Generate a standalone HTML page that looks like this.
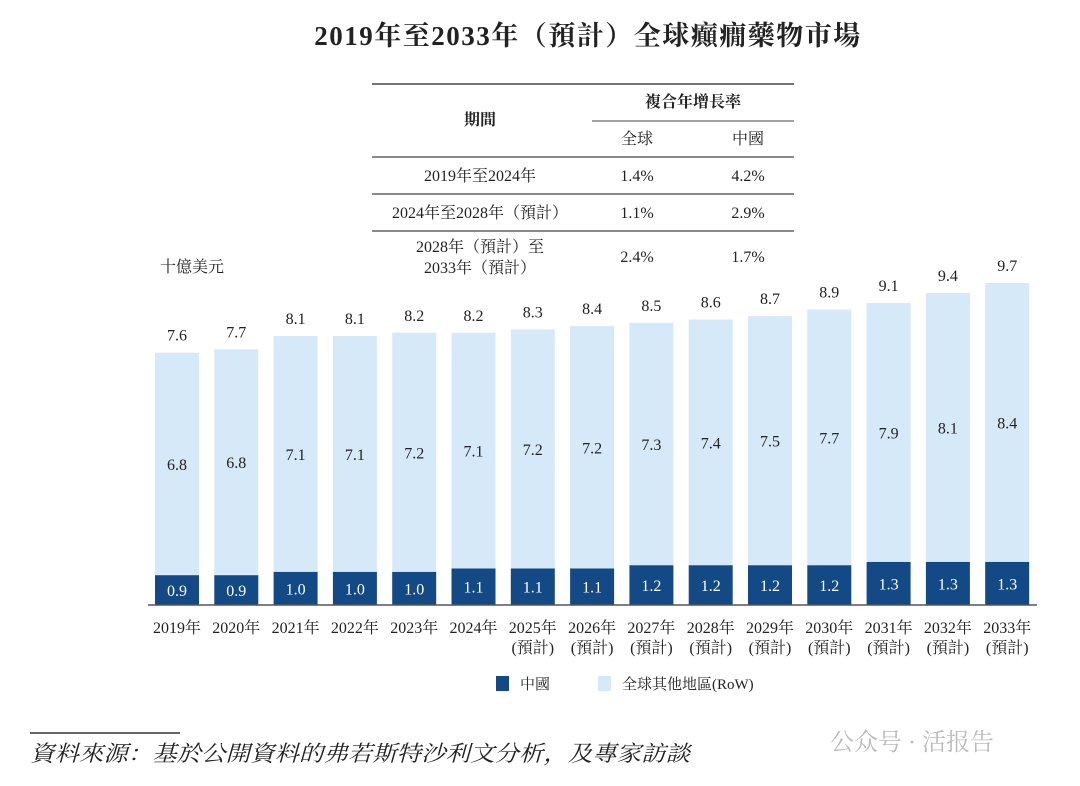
<!DOCTYPE html>
<html><head><meta charset="utf-8">
<style>
body{margin:0;background:#fff;}
svg text{font-family:"Liberation Serif","Noto Serif CJK SC","Noto Sans CJK TC",serif;fill:#222;}
</style></head>
<body>
<svg id="chart" width="1080" height="781" viewBox="0 0 1080 781" xmlns="http://www.w3.org/2000/svg">
<text x="588" y="45" text-anchor="middle" font-size="27" font-weight="bold" letter-spacing="1.5">2019年至2033年（預計）全球癲癇藥物市場</text>
<g font-size="16">
<line x1="372" y1="84" x2="794" y2="84" stroke="#444" stroke-width="1.5"/>
<line x1="592" y1="121" x2="794" y2="121" stroke="#444" stroke-width="1"/>
<line x1="372" y1="157" x2="794" y2="157" stroke="#444" stroke-width="1.2"/>
<line x1="372" y1="194" x2="794" y2="194" stroke="#444" stroke-width="1.2"/>
<line x1="372" y1="231" x2="794" y2="231" stroke="#444" stroke-width="1.2"/>
<text x="480" y="125" text-anchor="middle" font-weight="bold" font-family="Noto Sans CJK TC,sans-serif">期間</text>
<text x="693" y="107" text-anchor="middle" font-weight="bold" font-family="Noto Sans CJK TC,sans-serif">複合年增長率</text>
<text x="637" y="144" text-anchor="middle">全球</text>
<text x="748" y="144" text-anchor="middle">中國</text>
<text x="480" y="181" text-anchor="middle">2019年至2024年</text>
<text x="637" y="181" text-anchor="middle">1.4%</text>
<text x="748" y="181" text-anchor="middle">4.2%</text>
<text x="480" y="218" text-anchor="middle">2024年至2028年（預計）</text>
<text x="637" y="218" text-anchor="middle">1.1%</text>
<text x="748" y="218" text-anchor="middle">2.9%</text>
<text x="480" y="252" text-anchor="middle">2028年（預計）至</text>
<text x="480" y="273" text-anchor="middle">2033年（預計）</text>
<text x="637" y="262" text-anchor="middle">2.4%</text>
<text x="748" y="262" text-anchor="middle">1.7%</text>
</g>
<text x="160" y="272" font-size="16">十億美元</text>
<g id="bars"></g>
<line x1="148" y1="605" x2="1037" y2="605" stroke="#555" stroke-width="1.5"/>
<g font-size="15">
<rect x="496" y="676" width="13" height="15" fill="#134a85"/>
<text x="520" y="689">中國</text>
<rect x="598" y="676" width="13" height="15" fill="#d5e9f8"/>
<text x="622" y="689">全球其他地區(RoW)</text>
</g>
<line x1="30" y1="733" x2="180" y2="733" stroke="#333" stroke-width="1.5"/>
<text x="30" y="761" font-size="22" font-style="italic" textLength="660" lengthAdjust="spacingAndGlyphs">資料來源：基於公開資料的弗若斯特沙利文分析，及專家訪談</text>
<text x="830" y="750" font-size="24" style="fill:#bbb" font-family="Noto Sans CJK SC,sans-serif">公众号 · 活报告</text>
</svg>
<script>
const years=["2019年","2020年","2021年","2022年","2023年","2024年","2025年","2026年","2027年","2028年","2029年","2030年","2031年","2032年","2033年"];
const forecast=[0,0,0,0,0,0,1,1,1,1,1,1,1,1,1];
const china=[0.9,0.9,1.0,1.0,1.0,1.1,1.1,1.1,1.2,1.2,1.2,1.2,1.3,1.3,1.3];
const row=[6.8,6.8,7.1,7.1,7.2,7.1,7.2,7.2,7.3,7.4,7.5,7.7,7.9,8.1,8.4];
const totals=[7.6,7.7,8.1,8.1,8.2,8.2,8.3,8.4,8.5,8.6,8.7,8.9,9.1,9.4,9.7];
const NS="http://www.w3.org/2000/svg";
const g=document.getElementById('bars');
const base=605,k=33.2,x0=177,step=59.3,bw=44;
const xc=i=>x0+i*step;
const yv=v=>base-v*k;
function mk(t,a,txt){const e=document.createElementNS(NS,t);for(const n in a)e.setAttribute(n,a[n]);if(txt!==undefined)e.textContent=txt;g.appendChild(e);return e;}
years.forEach((y,i)=>{
 const cx=xc(i);
 const r1=mk('rect',{x:cx-bw/2,y:yv(china[i]),width:bw,height:china[i]*k,fill:'#134a85'});
 
 
 const r2=mk('rect',{x:cx-bw/2,y:yv(totals[i]),width:bw,height:(totals[i]-china[i])*k,fill:'#d5e9f8'});
 
 
 const t1=mk('text',{x:cx,y:yv(china[i]/2)+6,'text-anchor':'middle','font-size':16,style:'fill:#fff'},china[i].toFixed(1));
 
 
 const t2=mk('text',{x:cx,y:yv(china[i]+(totals[i]-china[i])/2)+6,'text-anchor':'middle','font-size':16},row[i].toFixed(1));
 
 
 const t3=mk('text',{x:cx,y:yv(totals[i])-12,'text-anchor':'middle','font-size':16},totals[i].toFixed(1));
 
 
 const t4=mk('text',{x:cx,y:633,'text-anchor':'middle','font-size':16},y);
 
 
 if(forecast[i]){
  const t5=mk('text',{x:cx,y:653,'text-anchor':'middle','font-size':16},'(預計)');
  
  
 }
});
</script>
</body></html>
